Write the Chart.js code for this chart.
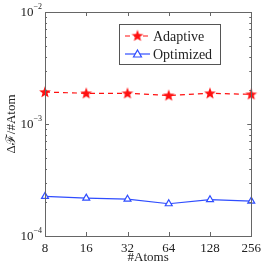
<!DOCTYPE html>
<html><head><meta charset="utf-8">
<script src="https://cdn.jsdelivr.net/npm/chart.js@4.4.1/dist/chart.umd.min.js"></script>
<style>html,body{margin:0;padding:0;background:#fff}#wrap{width:266px;height:266px}</style>
</head><body><div id="wrap"><canvas id="c" width="266" height="266"></canvas></div>
<script>
const categories = ['8','16','32','64','128','256'];
const adaptive = [1.93e-3,1.88e-3,1.88e-3,1.80e-3,1.88e-3,1.84e-3];
const optimized = [2.26e-4,2.18e-4,2.13e-4,1.94e-4,2.11e-4,2.05e-4];
const yMajor = [1e-4,1e-3,1e-2];
const yExp = ['-4','-3','-2'];
const seriesNames = ['Adaptive','Optimized'];
const RED = '#ff1010', BLUE = '#2f4dff', FRAME = '#666', TXT = '#222';
const SERIF = '"Liberation Serif","DejaVu Serif",serif';

function makeStar(){
  const c = document.createElement('canvas'); c.width = 14; c.height = 14;
  const g = c.getContext('2d'); g.fillStyle = RED; g.beginPath();
  for (let i=0;i<10;i++){ const r = i%2?2.6:6.2; const a = -Math.PI/2 + i*Math.PI/5;
    const x = 7 + r*Math.cos(a), y = 7.3 + r*Math.sin(a); i?g.lineTo(x,y):g.moveTo(x,y);} 
  g.closePath(); g.fill(); return c;
}
const star = makeStar();

const framePlugin = {
  id:'frame',
  afterDatasetsDraw(chart){
    const {ctx, chartArea:a, scales:{x,y}} = chart;
    ctx.save();
    ctx.strokeStyle = FRAME; ctx.lineWidth = 1;
    ctx.strokeRect(Math.round(a.left)+0.5, Math.round(a.top)+0.5, Math.round(a.right-a.left), Math.round(a.bottom-a.top));
    ctx.beginPath();
    categories.forEach((c,i)=>{ const px = Math.round(x.getPixelForValue(i))+0.5;
      ctx.moveTo(px,a.bottom); ctx.lineTo(px,a.bottom-4); ctx.moveTo(px,a.top); ctx.lineTo(px,a.top+4); });
    for (let e=-4;e<-2;e++) for (let m=1;m<=9;m++){ const v = m*Math.pow(10,e);
      const py = Math.round(y.getPixelForValue(v))+0.5; const L = m===1?4:2;
      ctx.moveTo(a.left,py); ctx.lineTo(a.left+L,py); ctx.moveTo(a.right,py); ctx.lineTo(a.right-L,py); }
    ctx.stroke();
    // y tick labels with superscript
    ctx.fillStyle = TXT; ctx.textBaseline = 'middle';
    yMajor.forEach((v,i)=>{ const py = y.getPixelForValue(v);
      ctx.font = '8px '+SERIF; ctx.textAlign='right'; ctx.fillText('\u2212'+yExp[i].slice(1), a.left-3, py-5);
      const w = ctx.measureText('\u2212'+yExp[i].slice(1)).width;
      ctx.font = '13px '+SERIF; ctx.fillText('10', a.left-3-w, py+1); });
    // legend
    const lx=119, ly=24, lw=101, lh=40;
    ctx.fillStyle='#fff'; ctx.fillRect(lx,ly,lw,lh);
    ctx.strokeStyle='#555'; ctx.strokeRect(lx+0.5,ly+0.5,lw,lh);
    chart.data.datasets.forEach((d,i)=>{ const cy = ly+12+i*18;
      ctx.strokeStyle=d.borderColor; ctx.lineWidth=1.2; ctx.setLineDash(d.borderDash||[]);
      ctx.beginPath(); ctx.moveTo(lx+6,cy); ctx.lineTo(lx+31,cy); ctx.stroke(); ctx.setLineDash([]);
      if (i===0) ctx.drawImage(star, lx+18.5-7, cy-7.3);
      else { ctx.beginPath(); ctx.moveTo(lx+18.5,cy-4); ctx.lineTo(lx+22.5,cy+3); ctx.lineTo(lx+14.5,cy+3); ctx.closePath();
        ctx.fillStyle='#fff'; ctx.fill(); ctx.strokeStyle=BLUE; ctx.lineWidth=1.2; ctx.stroke(); }
      ctx.fillStyle=TXT; ctx.font='14px '+SERIF; ctx.textAlign='left'; ctx.textBaseline='middle';
      ctx.fillText(d.label, lx+34, cy+1); });
    ctx.restore();
  }
};

new Chart(document.getElementById('c'), {
  type:'line',
  data:{ labels:categories, datasets:[
    {label:seriesNames[0], data:adaptive, borderColor:RED, backgroundColor:RED, borderWidth:1.2, borderDash:[5,4],
     pointStyle:star, pointRadius:6, tension:0},
    {label:seriesNames[1], data:optimized, borderColor:BLUE, backgroundColor:'#fff', borderWidth:1.2,
     pointStyle:'triangle', pointRadius:4, pointBorderWidth:1.2, tension:0}
  ]},
  options:{
    responsive:false, animation:false, devicePixelRatio:1,
    layout:{padding:{top:12,right:13,left:0,bottom:0}},
    plugins:{legend:{display:false}, tooltip:{enabled:false}},
    scales:{
      x:{type:'category', offset:false, grid:{display:false, drawTicks:false}, border:{display:false},
         ticks:{color:TXT, font:{family:SERIF,size:13}, padding:5, maxRotation:0, autoSkip:false},
         title:{display:true, text:'#Atoms', color:TXT, font:{family:SERIF,size:13}, padding:{top:0,bottom:1}},
         afterFit(s){ s.height = 30; }},
      y:{type:'logarithmic', min:1e-4, max:1e-2, grid:{display:false, drawTicks:false}, border:{display:false},
         afterBuildTicks(s){ s.ticks = yMajor.map(v=>({value:v})); },
         ticks:{display:false},
         title:{display:true, text:'\u0394\u2131/#Atom', color:TXT, font:{family:SERIF,size:13}, padding:{top:4,bottom:0}},
         afterFit(s){ s.width = 45; }}
    }
  },
  plugins:[framePlugin]
});
</script></body></html>
